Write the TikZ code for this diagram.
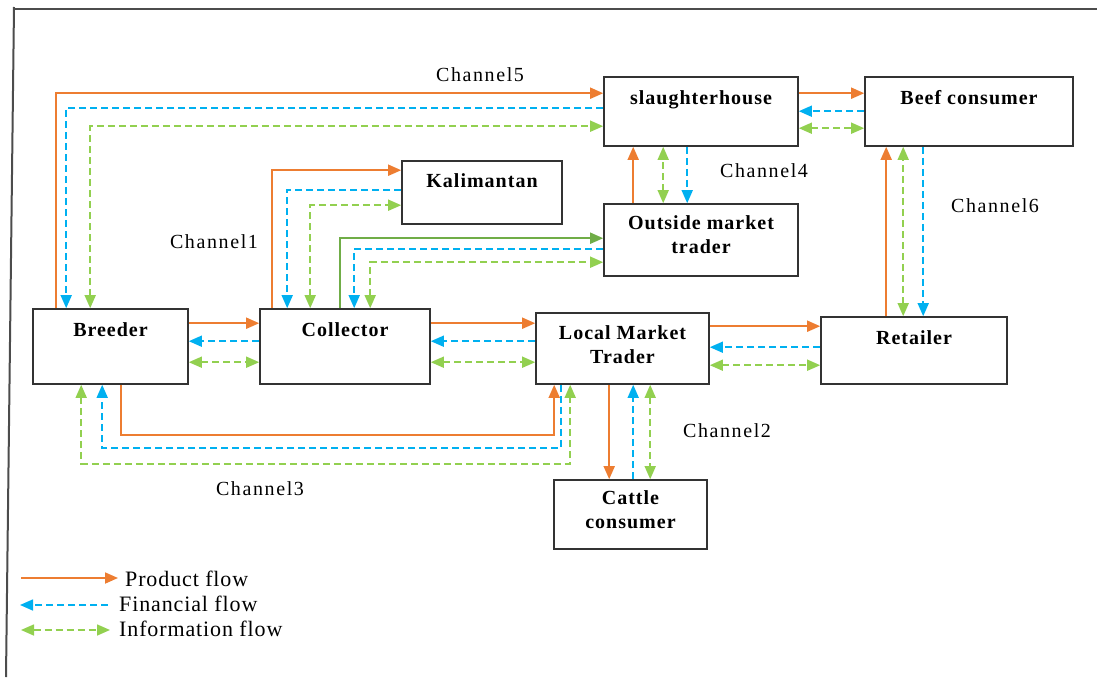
\documentclass[tikz,border=0pt]{standalone}
\usepackage{fontspec}
\setmainfont{Liberation Serif}
\newfontfamily\boxfont{Liberation Serif}[LetterSpace=5]
\newfontfamily\chanfont{Liberation Serif}[LetterSpace=8]
\newfontfamily\legfont{Liberation Serif}[LetterSpace=4]
\usetikzlibrary{arrows.meta, positioning}
\definecolor{prodorange}{RGB}{237,125,49}
\definecolor{finblue}{RGB}{0,176,240}
\definecolor{infogreen}{RGB}{146,208,80}
\definecolor{mixgreen}{RGB}{112,173,71}
\tikzset{
    box/.style 2 args={draw=black!80, line width=1.6pt, minimum width=#1, minimum height=#2, inner sep=0pt},
    boxtext/.style={font=\boxfont\bfseries\fontsize{20}{24}\selectfont, align=center, inner sep=0pt},
    chan/.style={font=\chanfont\fontsize{20}{24}\selectfont, inner sep=0pt},
    legtext/.style={font=\legfont\fontsize{22}{26}\selectfont, inner sep=2pt, anchor=base west},
    prod/.style={prodorange, line width=1.8pt, -{Triangle[length=13pt,width=11pt]}},
    mix/.style={mixgreen, line width=1.8pt, -{Triangle[length=13pt,width=11pt]}},
    fin/.style={finblue, line width=1.6pt, dash pattern=on 7pt off 4pt, -{Triangle[length=13pt,width=11pt]}},
    info/.style={infogreen, line width=1.6pt, dash pattern=on 7pt off 4pt, {Triangle[length=13pt,width=11pt]}-{Triangle[length=13pt,width=11pt]}},
    frame/.style={black!70, line width=2pt}
}

\begin{document}
\begin{tikzpicture}[x=1pt, y=-1pt]
    \useasboundingbox (0,0) rectangle (1097,677);

    % Cornice
    \draw[frame] (14,7) -- (6,677);
    \draw[frame] (13,9.5) -- (1097,9.5);

    % Attori della filiera
    \node[box={155}{75}] (breeder) at (110.5,346.5) {};
    \node[box={170}{75}] (collector) at (345,346.5) {};
    \node[box={173}{71}] (lmt) at (622.5,348.5) {};
    \node[box={186}{67}] (retailer) at (914,350.5) {};
    \node[box={153}{69}] (cattle) at (630.5,514.5) {};
    \node[box={160}{63}] (kalim) at (482,192.5) {};
    \node[box={194}{72}] (outside) at (701,240) {};
    \node[box={194}{69}] (slaughter) at (701,111.5) {};
    \node[box={208}{69}] (beef) at (969,111.5) {};

    \node[boxtext, below=14pt of breeder.north] (breederlbl) {Breeder};
    \node[boxtext, below=14pt of collector.north] (collectorlbl) {Collector};
    \node[boxtext, below=13pt of lmt.north] (lmtlbl) {Local Market\\Trader};
    \node[boxtext, below=14pt of retailer.north] (retailerlbl) {Retailer};
    \node[boxtext, below=11pt of cattle.north] (cattlelbl) {Cattle\\consumer};
    \node[boxtext, below=13pt of kalim.north] (kalimlbl) {Kalimantan};
    \node[boxtext, below=12pt of outside.north] (outsidelbl) {Outside market\\trader};
    \node[boxtext, below=14pt of slaughter.north] (slaughterlbl) {slaughterhouse};
    \node[boxtext, below=14pt of beef.north] (beeflbl) {Beef consumer};

    % Etichette dei canali
    \node[chan] (ch5) at (480,75) {Channel5};
    \node[chan] (ch1) at (214,242) {Channel1};
    \node[chan] (ch4) at (764,171) {Channel4};
    \node[chan] (ch6) at (995,206) {Channel6};
    \node[chan] (ch2) at (727,431) {Channel2};
    \node[chan] (ch3) at (260,489) {Channel3};

    % Canale 5: allevatore - macello
    \draw[prod] ([xshift=24pt]breeder.north west) |- ([yshift=-17pt]slaughter.north west);
    \draw[fin] ([yshift=-32pt]slaughter.north west) -| ([xshift=34pt]breeder.north west);
    \draw[info] ([xshift=58pt]breeder.north west) |- ([yshift=-50pt]slaughter.north west);

    % Canale 1: raccoglitore - Kalimantan
    \draw[prod] ([xshift=13pt]collector.north west) |- ([yshift=-10pt]kalim.north west);
    \draw[fin] ([yshift=-30pt]kalim.north west) -| ([xshift=28pt]collector.north west);
    \draw[info] ([xshift=51pt]collector.north west) |- ([yshift=-45pt]kalim.north west);

    % Raccoglitore - commerciante esterno
    \draw[mix] ([xshift=81pt]collector.north west) |- ([yshift=-35pt]outside.north west);
    \draw[fin] ([yshift=-46pt]outside.north west) -| ([xshift=95pt]collector.north west);
    \draw[info] ([xshift=111pt]collector.north west) |- ([yshift=-59pt]outside.north west);

    % Canale 4: commerciante esterno - macello
    \draw[prod] ([xshift=30pt]outside.north west) -- ([xshift=30pt]slaughter.south west);
    \draw[info] ([xshift=60pt]outside.north west) -- ([xshift=60pt]slaughter.south west);
    \draw[fin] ([xshift=84pt]slaughter.south west) -- ([xshift=84pt]outside.north west);

    % Macello - consumatore di carne
    \draw[prod] ([yshift=-17pt]slaughter.north east) -- ([yshift=-17pt]beef.north west);
    \draw[fin] ([yshift=-35pt]beef.north west) -- ([yshift=-35pt]slaughter.north east);
    \draw[info] ([yshift=-52pt]slaughter.north east) -- ([yshift=-52pt]beef.north west);

    % Canale 6: dettagliante - consumatore di carne
    \draw[prod] ([xshift=66pt]retailer.north west) coordinate (r1) -- (r1 |- beef.south);
    \draw[info] ([xshift=83pt]retailer.north west) coordinate (r2) -- (r2 |- beef.south);
    \coordinate (r3) at ([xshift=103pt]retailer.north west);
    \draw[fin] (r3 |- beef.south) -- (r3);

    % Allevatore - raccoglitore
    \draw[prod] ([yshift=-15pt]breeder.north east) -- ([yshift=-15pt]collector.north west);
    \draw[fin] ([yshift=-33pt]collector.north west) -- ([yshift=-33pt]breeder.north east);
    \draw[info] ([yshift=-54pt]breeder.north east) -- ([yshift=-54pt]collector.north west);

    % Raccoglitore - commerciante locale
    \draw[prod] ([yshift=-15pt]collector.north east) -- ([yshift=-11pt]lmt.north west);
    \draw[fin] ([yshift=-29pt]lmt.north west) -- ([yshift=-33pt]collector.north east);
    \draw[info] ([yshift=-54pt]collector.north east) -- ([yshift=-50pt]lmt.north west);

    % Commerciante locale - dettagliante
    \draw[prod] ([yshift=-14pt]lmt.north east) -- ([yshift=-10pt]retailer.north west);
    \draw[fin] ([yshift=-31pt]retailer.north west) -- ([yshift=-35pt]lmt.north east);
    \draw[info] ([yshift=-53pt]lmt.north east) -- ([yshift=-49pt]retailer.north west);

    % Canale 2: commerciante locale - consumatore di bestiame
    \draw[prod] ([xshift=74pt]lmt.south west) coordinate (l1) -- (l1 |- cattle.north);
    \coordinate (l2) at ([xshift=98pt]lmt.south west);
    \draw[fin] (l2 |- cattle.north) -- (l2);
    \draw[info] ([xshift=115pt]lmt.south west) coordinate (l3) -- (l3 |- cattle.north);

    % Canale 3: allevatore - commerciante locale
    \draw[prod] ([xshift=89pt]breeder.south west) -- ++(0,50) -| ([xshift=19pt]lmt.south west);
    \draw[fin] ([xshift=26pt]lmt.south west) -- ++(0,63) -| ([xshift=70pt]breeder.south west);
    \draw[info] ([xshift=49pt]breeder.south west) -- ++(0,79) -| ([xshift=35pt]lmt.south west);

    % Legenda
    \node[legtext] (legprod) at (123,586) {Product flow};
    \node[legtext] (legfin) at (117,611) {Financial flow};
    \node[legtext] (leginfo) at (117,636) {Information flow};
    \coordinate (lp1) at (21,578);
    \coordinate (lp2) at (118,578);
    \coordinate (lf1) at (108,605);
    \coordinate (lf2) at (20,605);
    \coordinate (li1) at (21,630);
    \coordinate (li2) at (110,630);
    \draw[prod] (lp1) -- (lp2);
    \draw[fin] (lf1) -- (lf2);
    \draw[info] (li1) -- (li2);
\end{tikzpicture}
\end{document}
